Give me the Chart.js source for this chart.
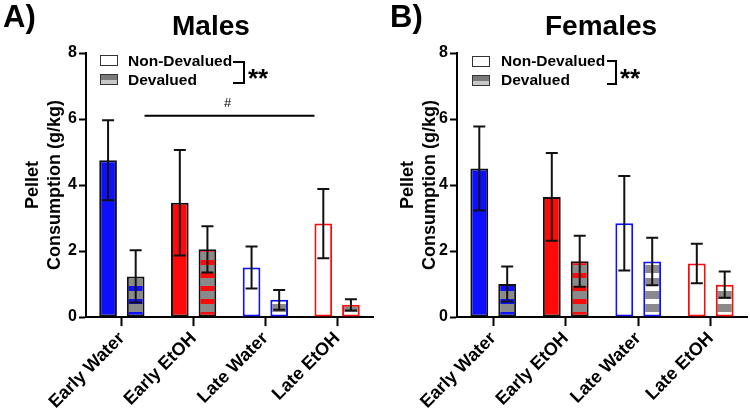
<!DOCTYPE html>
<html>
<head>
<meta charset="utf-8">
<script src="https://cdn.jsdelivr.net/npm/chart.js@4.4.0/dist/chart.umd.min.js"></script>
<style>
body { margin: 0; background: #fff; }
#wrap { position: relative; width: 750px; height: 413px; font-family: "Liberation Sans", Arial, sans-serif; font-weight: bold; color: #000; }
.panel { position: absolute; top: 0; width: 375px; height: 413px; }
.txt { position: absolute; line-height: 1; white-space: nowrap; }
.box { position: absolute; width: 16px; height: 9px; border: 1.5px solid #333; background: #fff; }
.brk { position: absolute; border: 2px solid #000; border-left: none; }
</style>
</head>
<body>
<div id="wrap">
  <canvas id="males" class="panel" style="left:0" width="375" height="413"></canvas>
  <canvas id="females" class="panel" style="left:375px" width="375" height="413"></canvas>

  <div class="txt" style="left:3px;top:1px;font-size:31px">A)</div>
  <div class="txt" style="left:172px;top:12px;font-size:28px">Males</div>
  <div class="box" style="left:100px;top:55px"></div>
  <div class="box" style="left:100px;top:74px;background:linear-gradient(#7a7a7a 50%, #c8c8c8 50%)"></div>
  <div class="txt" style="left:128px;top:53px;font-size:15.5px">Non-Devalued</div>
  <div class="txt" style="left:128px;top:72px;font-size:15.5px">Devalued</div>
  <div class="brk" style="left:233px;top:61px;width:10px;height:19px"></div>
  <div class="txt" style="left:248px;top:65px;font-size:26px">**</div>
  <div class="txt" style="left:224px;top:96px;font-size:13px;font-weight:normal">#</div>

  <div class="txt" style="left:390px;top:1px;font-size:31px">B)</div>
  <div class="txt" style="left:545px;top:12px;font-size:28px">Females</div>
  <div class="box" style="left:472px;top:56px"></div>
  <div class="box" style="left:472px;top:75px;background:linear-gradient(#7a7a7a 50%, #c8c8c8 50%)"></div>
  <div class="txt" style="left:501px;top:53px;font-size:15.5px">Non-Devalued</div>
  <div class="txt" style="left:501px;top:72px;font-size:15.5px">Devalued</div>
  <div class="brk" style="left:607px;top:60px;width:8px;height:21px"></div>
  <div class="txt" style="left:620px;top:65px;font-size:26px">**</div>
</div>
<script>
var groups = ['Early Water', 'Early EtOH', 'Late Water', 'Late EtOH'];
var yTicks = [0, 2, 4, 6, 8];

// group means and SEM
var malesNonDev = [4.75, 3.46, 1.50, 2.83];
var malesNonDevSem = [1.21, 1.60, 0.64, 1.05];
var malesDev = [1.23, 2.05, 0.52, 0.37];
var malesDevSem = [0.79, 0.70, 0.30, 0.17];

var femalesNonDev = [4.50, 3.64, 2.84, 1.62];
var femalesNonDevSem = [1.27, 1.33, 1.43, 0.60];
var femalesDev = [1.00, 1.69, 1.68, 0.98];
var femalesDevSem = [0.53, 0.77, 0.72, 0.40];

// "#" comparison line height (g/kg)
var hashLineValue = 6.1;

var BLUE = '#0f0fff';
var RED = '#ff0a0a';
var GRAY = '#8a8a8a';

function stripes(ctx, color) {
    var c = document.createElement('canvas');
    c.width = 8;
    c.height = 13;
    var g = c.getContext('2d');
    g.fillStyle = GRAY;
    g.fillRect(0, 0, 8, 13);
    g.fillStyle = color;
    g.fillRect(0, 0, 8, 5);
    return ctx.createPattern(c, 'repeat');
}

var errorBars = {
    id: 'errorBars',
    afterDatasetsDraw(chart) {
        var ctx = chart.ctx;
        var y = chart.scales.y;
        ctx.save();
        ctx.strokeStyle = '#111';
        ctx.lineWidth = 2;
        chart.data.datasets.forEach((ds, i) => {
            chart.getDatasetMeta(i).data.forEach((bar, j) => {
                var top = y.getPixelForValue(ds.data[j] + ds.sem[j]);
                var bot = y.getPixelForValue(ds.data[j] - ds.sem[j]);
                ctx.beginPath();
                ctx.moveTo(bar.x, top); ctx.lineTo(bar.x, bot);
                ctx.moveTo(bar.x - 6, top); ctx.lineTo(bar.x + 6, top);
                ctx.moveTo(bar.x - 6, bot); ctx.lineTo(bar.x + 6, bot);
                ctx.stroke();
            });
        });
        ctx.restore();
    }
};

var hashLine = {
    id: 'hashLine',
    afterDatasetsDraw(chart, args, opts) {
        if (opts.value == null) return;
        var m0 = chart.getDatasetMeta(0).data;
        var m1 = chart.getDatasetMeta(1).data;
        var yy = chart.scales.y.getPixelForValue(opts.value);
        var ctx = chart.ctx;
        ctx.save();
        ctx.strokeStyle = '#000';
        ctx.lineWidth = 2;
        ctx.beginPath();
        ctx.moveTo(m1[0].x + m1[0].width / 2, yy);
        ctx.lineTo(m0[3].x - m0[3].width / 2, yy);
        ctx.stroke();
        ctx.restore();
    }
};

function makeChart(id, nonDev, nonDevSem, dev, devSem, yWidth, padRight, hashValue) {
    var canvas = document.getElementById(id);
    var ctx = canvas.getContext('2d');
    return new Chart(ctx, {
        type: 'bar',
        data: {
            labels: groups,
            datasets: [
                {
                    label: 'Non-Devalued',
                    data: nonDev,
                    sem: nonDevSem,
                    backgroundColor: [BLUE, RED, '#fff', '#fff'],
                    borderColor: ['#111', '#111', BLUE, RED],
                    borderWidth: 2,
                    borderSkipped: false
                },
                {
                    label: 'Devalued',
                    data: dev,
                    sem: devSem,
                    backgroundColor: [stripes(ctx, BLUE), stripes(ctx, RED), stripes(ctx, '#fff'), stripes(ctx, '#fff')],
                    borderColor: ['#111', '#111', BLUE, RED],
                    borderWidth: 2,
                    borderSkipped: false
                }
            ]
        },
        options: {
            responsive: false,
            animation: false,
            categoryPercentage: 0.77,
            barPercentage: 0.64,
            layout: { padding: { top: 53, right: padRight, left: 0, bottom: 0 } },
            plugins: {
                legend: { display: false },
                tooltip: { enabled: false },
                hashLine: { value: hashValue }
            },
            scales: {
                x: {
                    grid: { display: true, offset: false, drawOnChartArea: false, tickLength: 9, tickWidth: 2, tickColor: '#000' },
                    border: { display: true, width: 2, color: '#000' },
                    ticks: {
                        color: '#000',
                        font: { family: 'Liberation Sans', weight: 'bold', size: 18 },
                        minRotation: 45,
                        maxRotation: 45,
                        autoSkip: false,
                        padding: 2
                    },
                    afterFit: function (scale) { scale.height = 96; }
                },
                y: {
                    min: 0,
                    max: 8,
                    afterBuildTicks: function (scale) {
                        scale.ticks = yTicks.map(v => ({ value: v }));
                    },
                    grid: { display: true, drawOnChartArea: false, tickLength: 7, tickWidth: 2, tickColor: '#000' },
                    border: { display: true, width: 2, color: '#000' },
                    ticks: {
                        color: '#000',
                        font: { family: 'Liberation Sans', weight: 'bold', size: 16 },
                        padding: 2
                    },
                    title: {
                        display: true,
                        text: ['Pellet', 'Consumption (g/kg)'],
                        color: '#000',
                        font: { family: 'Liberation Sans', weight: 'bold', size: 18, lineHeight: 1.17 },
                        padding: { top: 23, bottom: 0 }
                    },
                    afterFit: function (scale) { scale.width = yWidth; }
                }
            }
        },
        plugins: [errorBars, hashLine]
    });
}

makeChart('males', malesNonDev, malesNonDevSem, malesDev, malesDevSem, 86, 2, hashLineValue);
makeChart('females', femalesNonDev, femalesNonDevSem, femalesDev, femalesDevSem, 82, 3, null);
</script>
</body>
</html>
